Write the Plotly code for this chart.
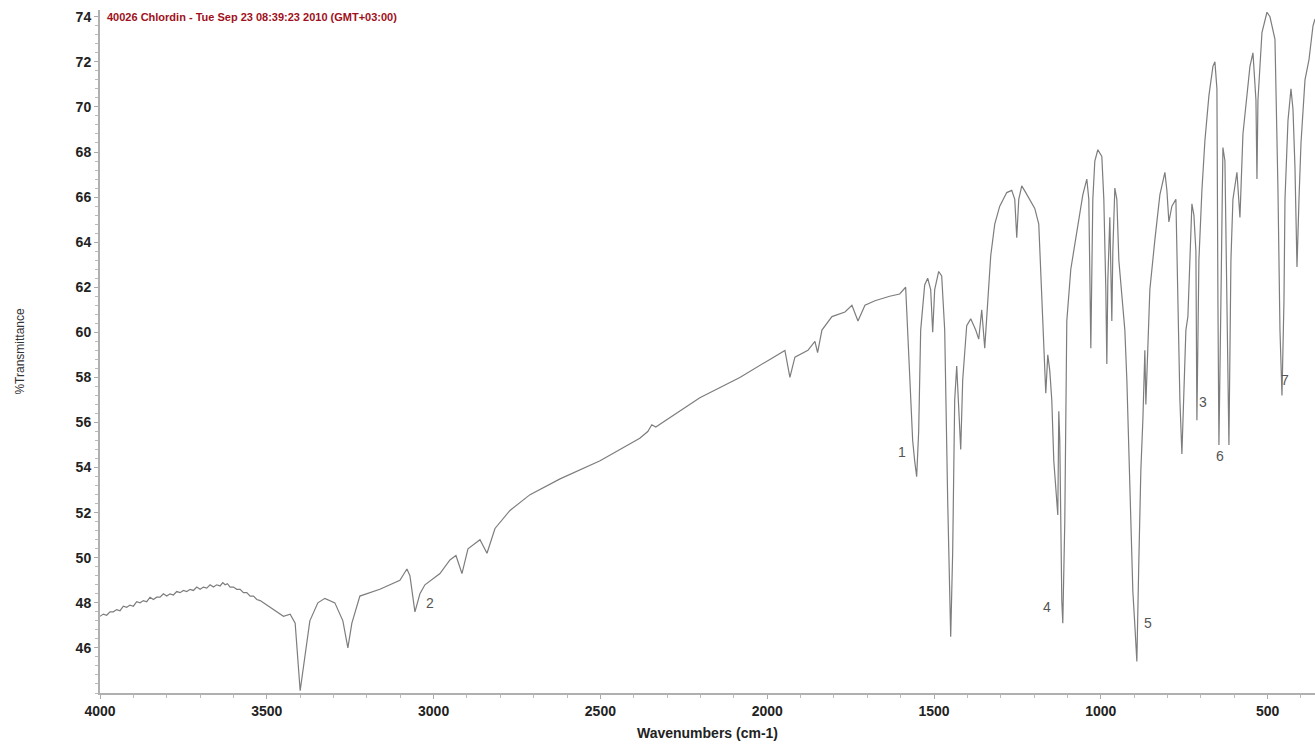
import plotly.graph_objects as go

# IR spectrum: wavenumber (cm-1) and %Transmittance
wavenumber = [
    4000, 3990, 3980, 3970, 3960, 3950, 3940, 3930, 3920, 3910, 3900, 3890, 3880, 3870,
    3860, 3850, 3840, 3830, 3820, 3810, 3800, 3790, 3780, 3770, 3760, 3750, 3740, 3730,
    3720, 3710, 3700, 3690, 3680, 3670, 3660, 3650, 3640, 3632, 3625, 3618, 3610, 3600,
    3590, 3580, 3570, 3560, 3550, 3540, 3530, 3520, 3510, 3500, 3490, 3480, 3470, 3460,
    3450, 3430, 3415, 3400, 3371, 3347, 3326, 3296, 3272, 3257, 3245, 3221, 3161, 3101,
    3080, 3071, 3056, 3041, 3026, 2981, 2951, 2933, 2915, 2897, 2861, 2840, 2816, 2771,
    2711, 2621, 2501, 2382, 2358, 2346, 2334, 2202, 2082, 1992, 1947, 1932, 1917, 1878,
    1857, 1849, 1836, 1806, 1767, 1746, 1728, 1707, 1677, 1633, 1603, 1585, 1573, 1564,
    1558, 1552, 1546, 1540, 1528, 1519, 1510, 1504, 1498, 1486, 1477, 1468, 1459, 1450,
    1444, 1438, 1432, 1426, 1420, 1414, 1402, 1390, 1375, 1366, 1357, 1348, 1339, 1330,
    1318, 1303, 1282, 1267, 1258, 1252, 1246, 1237, 1225, 1213, 1198, 1186, 1180, 1174,
    1168, 1165, 1159, 1153, 1147, 1141, 1135, 1129, 1126, 1123, 1117, 1114, 1108, 1102,
    1090, 1072, 1054, 1042, 1036, 1030, 1024, 1018, 1009, 997, 991, 985, 982, 979,
    973, 967, 964, 958, 952, 946, 937, 928, 922, 916, 910, 904, 898, 892,
    886, 880, 874, 868, 865, 859, 853, 838, 823, 808, 802, 796, 787, 775,
    769, 763, 757, 751, 745, 739, 733, 727, 721, 715, 712, 706, 697, 688,
    676, 664, 658, 652, 649, 646, 640, 634, 628, 622, 616, 610, 604, 592,
    583, 574, 562, 553, 544, 535, 532, 529, 517, 502, 493, 478, 469, 463,
    457, 451, 448, 439, 430, 424, 418, 412, 406, 400, 388, 376, 364, 358,
]
transmittance = [
    47.4, 47.5, 47.45, 47.6, 47.6, 47.7, 47.65, 47.85, 47.8, 47.9, 47.85, 48.05, 48.0, 48.1,
    48.05, 48.25, 48.15, 48.25, 48.25, 48.4, 48.3, 48.4, 48.35, 48.5, 48.45, 48.55, 48.5, 48.6,
    48.55, 48.7, 48.6, 48.7, 48.65, 48.8, 48.7, 48.8, 48.75, 48.9, 48.8, 48.85, 48.7, 48.7,
    48.6, 48.6, 48.45, 48.45, 48.3, 48.3, 48.15, 48.1, 48.0, 47.9, 47.8, 47.7, 47.6, 47.5,
    47.4, 47.5, 47.1, 44.1, 47.2, 48.0, 48.2, 48.0, 47.2, 46.0, 47.1, 48.3, 48.6, 49.0,
    49.5, 49.2, 47.6, 48.4, 48.8, 49.3, 49.9, 50.1, 49.3, 50.4, 50.8, 50.2, 51.3, 52.1,
    52.8, 53.5, 54.3, 55.3, 55.6, 55.9, 55.8, 57.1, 58.0, 58.8, 59.2, 58.0, 58.9, 59.2,
    59.6, 59.1, 60.1, 60.7, 60.9, 61.2, 60.5, 61.2, 61.4, 61.6, 61.7, 62.0, 57.9, 55.2,
    54.3, 53.6, 55.6, 60.1, 62.1, 62.4, 61.9, 60.0, 61.9, 62.7, 62.5, 60.1, 52.5, 46.5,
    50.3, 57.0, 58.5, 56.5, 54.8, 57.9, 60.3, 60.6, 60.1, 59.7, 61.0, 59.3, 61.4, 63.4,
    64.8, 65.6, 66.2, 66.3, 65.9, 64.2, 65.9, 66.5, 66.2, 65.9, 65.5, 64.8, 62.8, 60.5,
    58.8, 57.3, 59.0, 58.3, 57.0, 54.3, 53.1, 51.9, 56.5, 55.2, 48.1, 47.1, 51.6, 60.5,
    62.8, 64.5, 66.1, 66.8, 65.9, 59.3, 65.9, 67.6, 68.1, 67.8, 65.9, 61.9, 58.6, 62.3,
    65.1, 60.5, 63.6, 66.4, 65.9, 63.2, 61.6, 60.1, 57.9, 54.8, 51.2, 48.5, 47.0, 45.4,
    49.9, 53.9, 56.1, 59.2, 56.8, 59.6, 61.9, 64.1, 66.1, 67.1, 66.3, 64.9, 65.6, 65.9,
    61.4, 57.0, 54.6, 57.9, 60.1, 60.7, 63.2, 65.7, 65.2, 63.6, 56.1, 63.2, 66.3, 68.5,
    70.5, 71.8, 72.0, 70.8, 61.4, 55.0, 61.4, 68.2, 67.6, 61.4, 55.0, 63.2, 65.9, 67.1,
    65.1, 68.8, 70.5, 71.8, 72.4, 70.3, 66.8, 70.3, 73.3, 74.2, 74.0, 73.0, 66.3, 60.1,
    57.2, 61.4, 65.9, 69.4, 70.8, 69.9, 67.3, 62.9, 65.9, 68.4, 71.2, 72.1, 73.6, 73.9,
]

# Numbered band markers
band_labels = ["1", "2", "3", "4", "5", "6", "7"]
band_wn = [1596, 3011, 695, 1162, 859, 644, 449]
band_t = [54.7, 48.0, 56.9, 47.8, 47.1, 54.5, 57.9]

y_ticks = list(range(46, 75, 2))
x_ticks = [4000, 3500, 3000, 2500, 2000, 1500, 1000, 500]

header = "40026 Chlordin - Tue Sep 23 08:39:23 2010 (GMT+03:00)"

fig = go.Figure()
fig.add_trace(go.Scatter(
    x=wavenumber, y=transmittance, mode="lines",
    line=dict(color="#7d7d7d", width=1.2),
    hoverinfo="skip", showlegend=False,
))

for lab, wn, t in zip(band_labels, band_wn, band_t):
    fig.add_annotation(x=wn, y=t, text=lab, showarrow=False,
                       font=dict(family="Arial", size=14, color="#555555"))

fig.add_annotation(xref="paper", yref="y", x=0.004, y=74, xanchor="left", yanchor="middle",
                   text="<b>" + header + "</b>", showarrow=False,
                   font=dict(family="Arial", size=11, color="#a01020"))

fig.add_annotation(xref="paper", yref="paper", x=-0.074, y=0.50, text="%Transmittance",
                   textangle=-90, showarrow=False,
                   font=dict(family="Arial", size=12, color="#333333"))

tick_font = dict(family="Arial", size=14, color="#222222", weight="bold")

fig.update_layout(
    width=1315, height=747,
    margin=dict(l=100, r=0, t=10, b=54),
    paper_bgcolor="white", plot_bgcolor="white",
    font=dict(family="Arial", color="#222222"),
    xaxis=dict(
        range=[4000, 358], tickvals=x_ticks, ticks="outside", ticklen=4,
        tickcolor="#aaaaaa", showline=True, linecolor="#b0b0b0", linewidth=2,
        showgrid=False, zeroline=False, tickfont=tick_font,
        minor=dict(dtick=100, ticks="outside", ticklen=3, tickcolor="#bbbbbb"),
        title=dict(text="<b>Wavenumbers (cm-1)</b>", standoff=10,
                   font=dict(family="Arial", size=14, color="#222222")),
    ),
    yaxis=dict(
        range=[44.0, 74.3], tickvals=y_ticks, ticks="outside", ticklen=4,
        tickcolor="#aaaaaa", showline=True, linecolor="#b0b0b0", linewidth=2,
        showgrid=False, zeroline=False, tickfont=tick_font,
        minor=dict(dtick=0.4, tick0=46, ticks="outside", ticklen=3, tickcolor="#bbbbbb"),
    ),
)

fig.write_html("out.html")
